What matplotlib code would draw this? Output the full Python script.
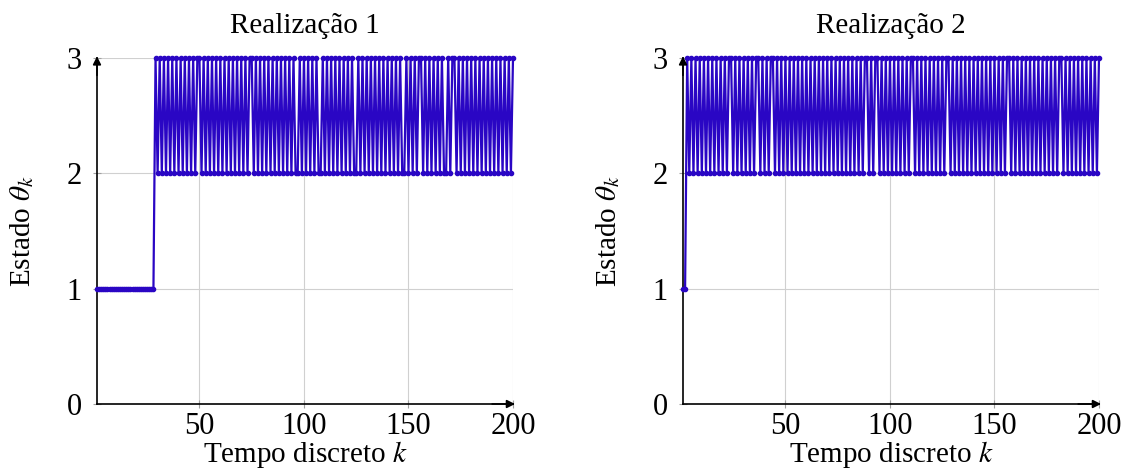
import numpy as np
import matplotlib
matplotlib.use('Agg')
import matplotlib.pyplot as plt

plt.rcParams['font.family'] = ['Liberation Serif', 'DejaVu Serif']
plt.rcParams['mathtext.fontset'] = 'stix'

# estados da cadeia (k = 1..200), 10 por linha
estados_r1 = (
    "1111111111"
    "1111111111"
    "1111111132"
    "3232323232"
    "3232323233"
    "2323232323"
    "2323232323"
    "2323323232"
    "3232323232"
    "3232322323"
    "2323232232"
    "3232323232"
    "3232232323"
    "2323232323"
    "2323232232"
    "3232332323"
    "2323232232"
    "3323232323"
    "2323232323"
    "2323232323"
)
estados_r2 = (
    "1132323232"
    "3232323232"
    "3233232323"
    "2323233232"
    "3233232323"
    "2323232323"
    "2323232323"
    "2323232323"
    "2323232332"
    "3233232323"
    "2323232323"
    "3232323232"
    "3232323323"
    "2323232323"
    "2323232323"
    "2323233232"
    "3232323232"
    "3232323232"
    "3323232323"
    "2323232323"
)
titulos = ['Realização 1', 'Realização 2']
xticks = [50, 100, 150, 200]
yticks = [0, 1, 2, 3]

cor = '#2a06c4'
fs = 21      # titulos e rotulos
fs_tick = 22  # numeros dos eixos

fig = plt.figure(figsize=(11.29, 4.75), dpi=100)
posicoes = [[97/1129, 71/475, 416/1129, 346/475],
            [683/1129, 71/475, 416/1129, 346/475]]

for pos, titulo, estados in zip(posicoes, titulos, [estados_r1, estados_r2]):
    ax = fig.add_axes(pos)
    y = np.array([int(c) for c in estados])
    k = np.arange(1, len(y) + 1)
    ax.plot(k, y, color=cor, lw=1.6, marker='o', ms=3, clip_on=False, zorder=3)

    ax.set_xlim(1, 200)
    ax.set_ylim(0, 3)
    ax.set_xticks(xticks)
    ax.set_yticks(yticks)
    ax.grid(True, color='#d0d0d0', lw=0.8)
    ax.set_axisbelow(True)
    ax.tick_params(direction='inout', length=6, color='#a0a0a0', labelsize=fs_tick)
    ax.tick_params(axis='x', pad=3)
    ax.tick_params(axis='y', pad=8)
    for s in ['top', 'right']:
        ax.spines[s].set_visible(False)
    ax.spines['left'].set_linewidth(1.2)
    ax.spines['bottom'].set_linewidth(1.2)

    # setas dos eixos
    ax.annotate('', xy=(0, 1.005), xytext=(0, 0.95), xycoords='axes fraction',
                arrowprops=dict(arrowstyle='-|>', color='black', lw=1.2,
                                mutation_scale=12, shrinkA=0, shrinkB=0))
    ax.annotate('', xy=(1.005, 0), xytext=(0.95, 0), xycoords='axes fraction',
                arrowprops=dict(arrowstyle='-|>', color='black', lw=1.2,
                                mutation_scale=12, shrinkA=0, shrinkB=0))

    ax.set_title(titulo, fontsize=fs, pad=18)
    ax.set_xlabel('Tempo discreto $k$', fontsize=fs, labelpad=-2)
    ax.set_ylabel(r'Estado $\theta_k$', fontsize=fs, labelpad=22)

plt.savefig('out.png', dpi=100)
plt.close()
